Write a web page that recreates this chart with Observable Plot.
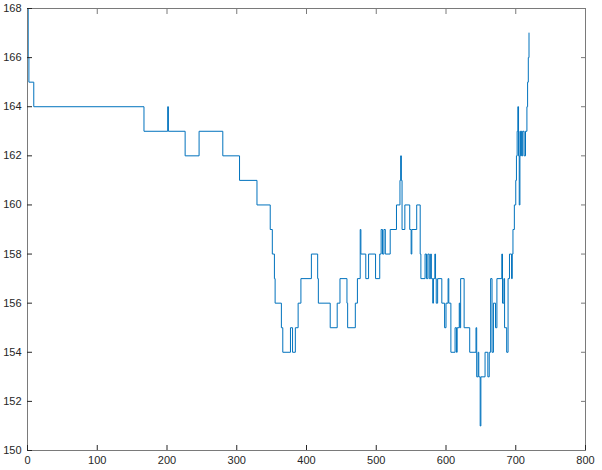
<!DOCTYPE html>
<html>
<head>
<meta charset="utf-8">
<script src="https://cdn.jsdelivr.net/npm/d3@7"></script>
<script src="https://cdn.jsdelivr.net/npm/@observablehq/plot@0.6"></script>
<style>
  html, body { margin: 0; padding: 0; background: #fff; }
  #chart svg { display: block; overflow: visible; }
</style>
</head>
<body>
<div id="chart"></div>
<script>
// Change points of the step series: index where a new value starts, and that value
const xs = [0,1,2,9,167,201,202,226,246,280,304,329,348,351,354,355,364,366,377,380,384,388,392,407,416,417,434,444,448,458,459,470,473,477,478,485,489,499,505,507,509,511,513,520,529,534,535,536,537,541,548,550,551,558,563,564,570,572,574,576,578,579,581,582,584,585,586,588,594,598,600,603,604,607,613,615,616,619,620,621,626,634,643,644,646,647,649,650,656,660,662,664,666,668,671,673,680,681,683,684,687,689,691,694,695,696,698,700,701,702,703,704,705,706,707,708,709,710,712,714,716,717,718,719];
const ys = [168,166,165,164,163,164,163,162,163,162,161,160,159,158,157,156,155,154,155,154,155,156,157,158,157,156,155,156,157,156,155,156,157,159,158,157,158,157,158,159,158,159,158,159,160,161,162,161,159,160,159,158,159,160,158,157,158,157,158,157,158,157,156,157,158,157,156,157,156,155,156,157,156,154,155,154,155,156,155,157,155,154,155,153,154,153,151,153,154,153,154,157,154,156,155,157,158,156,157,155,154,157,158,157,158,159,160,161,162,163,164,162,160,163,162,163,162,163,162,163,164,165,166,167];
const xTicks = [0,100,200,300,400,500,600,700,800];
const yTicks = [150,152,154,156,158,160,162,164,166,168];

const data = xs.map((x, i) => ({x, y: ys[i]}));

const frameColor = "#7a7a7a";
const tickColor = "#262626";
const textColor = "#262626";

const chart = Plot.plot({
  width: 602,
  height: 470,
  marginLeft: 27,
  marginRight: 17,
  marginTop: 8,
  marginBottom: 20,
  style: {fontFamily: "'Liberation Sans', Arial, sans-serif", fontSize: "11px", background: "#fff", overflow: "visible"},
  x: {domain: [0, 800]},
  y: {domain: [150, 168]},
  marks: [
    Plot.line(data, {x: "x", y: "y", curve: "step-after", stroke: "#0072BD", strokeWidth: 1}),
    Plot.frame({stroke: frameColor, strokeWidth: 1}),
    // inward ticks
    Plot.axisX(xTicks, {anchor: "bottom", tickSize: 5, text: null, label: null, dy: -5, stroke: tickColor}),
    Plot.axisX(xTicks, {anchor: "top", tickSize: 5, text: null, label: null, dy: 5, stroke: frameColor}),
    Plot.axisY(yTicks, {anchor: "left", tickSize: 5, text: null, label: null, dx: 5, stroke: tickColor}),
    Plot.axisY(yTicks, {anchor: "right", tickSize: 5, text: null, label: null, dx: -5, stroke: frameColor}),
    // labels
    Plot.axisX(xTicks, {anchor: "bottom", tickSize: 0, tickPadding: 6, label: null, fill: textColor}),
    Plot.axisY(yTicks, {anchor: "left", tickSize: 0, tickPadding: 6, label: null, fill: textColor})
  ]
});
document.getElementById("chart").appendChild(chart);
</script>
</body>
</html>
